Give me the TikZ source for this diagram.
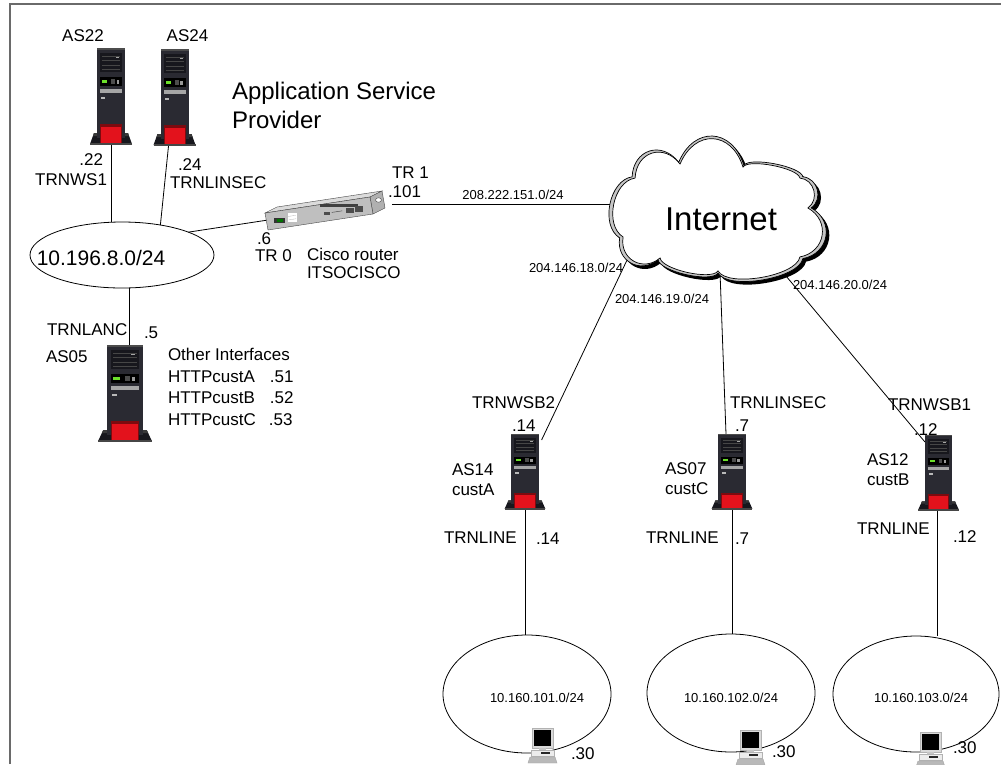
\documentclass[tikz,border=0pt]{standalone}
\usepackage{fontspec}
\setmainfont{Liberation Sans}
\usetikzlibrary{shapes.geometric}
\newcommand{\fsz}[1]{\fontsize{#1}{#1}\selectfont}

\definecolor{towerbody}{HTML}{2A2A32}
\definecolor{towerdark}{HTML}{17171D}
\definecolor{towerred}{HTML}{E3121C}
\definecolor{lcdgreen}{HTML}{6CE02A}
\definecolor{framegray}{HTML}{6A6A6A}

% outline of the Internet cloud (image pixel coordinates)
\newcommand{\cloudoutline}{(635,178)
  to[bend left=70, looseness=1.45] (680,164)
  to[bend left=70, looseness=1.55] (743,167)
  to[bend left=70, looseness=0.45] (800,178)
  to[bend left=70, looseness=1.2] (808,208)
  to[bend left=70, looseness=1.35] (800,257)
  to[bend left=70, looseness=0.6] (718,271)
  to[bend left=70, looseness=0.5] (660,258)
  to[bend left=70, looseness=1.35] (623,237)
  to[bend left=70, looseness=0.95] (635,178) -- cycle}

\tikzset{
  lnk/.style={draw=black, line width=0.8pt},
  lbl/.style={inner sep=0pt, outer sep=0pt, font=\fsz{17}},
  netlbl/.style={inner sep=0pt, outer sep=0pt, font=\fsz{13}},
  lanell/.style={ellipse, draw=black, line width=0.8pt, inner sep=0pt, outer sep=0pt},
  srvbox/.style={rectangle, inner sep=0pt, outer sep=0pt},
  % tower server, origin at the top centre, y grows downwards
  tower/.pic={
    \fill[towerdark] (-21,96) -- (-17,85) -- (17,85) -- (21,96) -- cycle;
    \fill[gray!45!black] (-17,85) -- (17,85) -- (18,88) -- (-18,88) -- cycle;
    \fill[gray!55!black] (-21,95) rectangle (21,97);
    \fill[towerbody] (-14,0) rectangle (14,90);
    \fill[gray!60!black] (-14,0) rectangle (14,1.5);
    \fill[towerdark] (-11,5) rectangle (11,24);
    \draw[gray!55!black, line width=0.5pt] (-9,8) -- (9,8) (-9,12) -- (9,12)
      (-9,17) -- (9,17) (-9,21) -- (9,21);
    \fill[gray!70] (5,8.5) rectangle (8,10);
    \fill[black] (-11,29) rectangle (11,38);
    \fill[lcdgreen] (-9,31.5) rectangle (-4,34.5);
    \fill[gray!60!black] (0,31) rectangle (4,36);
    \fill[gray!80] (5.5,32) rectangle (8,36);
    \fill[gray!70] (-11,41) rectangle (11,45);
    \fill[gray!55] (-10,49) rectangle (-6,51);
    \fill[towerred!55!black] (-11,76) rectangle (11,95);
    \fill[towerred] (-10,78.5) rectangle (10,95);
  },
  % desktop computer, origin at the top centre
  pc/.pic={
    \fill[gray!30] (-10,0) rectangle (11,20);
    \draw[gray!60, line width=0.4pt] (-10,0) rectangle (11,20);
    \fill[black] (-8,2) rectangle (9,18);
    \fill[gray!45] (-3,20) rectangle (4,22);
    \filldraw[fill=gray!15, draw=gray!60, line width=0.4pt] (-11,22) rectangle (12,28);
    \fill[black!85] (-1,24) rectangle (8,26);
    \filldraw[fill=gray!55, draw=gray!70, line width=0.4pt]
      (-14,35) -- (-12,29) -- (13,29) -- (15,35) -- cycle;
  }
}

\begin{document}
\begin{tikzpicture}[x=1pt,y=-1pt]
\useasboundingbox (0,0) rectangle (1001,764);
\fill[white] (0,0) rectangle (1001,764);

% page frame
\draw[framegray, line width=2pt] (10,764) -- (10,4) -- (1001,4);

% ---------- placeholders for devices ----------
\node[srvbox, minimum width=28pt, minimum height=97pt] (as22) at (111,96.5) {};
\node[srvbox, minimum width=28pt, minimum height=97pt] (as24) at (174.5,97.5) {};
\node[srvbox, minimum width=35.8pt, minimum height=97pt] (as05) at (125,393.5) {};
\node[srvbox, minimum width=27.2pt, minimum height=75.7pt] (as14) at (525,471.8) {};
\node[srvbox, minimum width=27.2pt, minimum height=75.7pt] (as07) at (732,471.8) {};
\node[srvbox, minimum width=27.2pt, minimum height=75.7pt] (as12) at (938.5,472.8) {};
\node[srvbox, minimum width=122pt, minimum height=40pt] (router) at (326,212) {};

% LAN segments
\node[lanell, minimum width=184pt, minimum height=66pt] (lan) at (122,255) {};
\node[lanell, minimum width=168pt, minimum height=118pt] (e1) at (527,694) {};
\node[lanell, minimum width=168pt, minimum height=118pt] (e2) at (731,693) {};
\node[lanell, minimum width=166pt, minimum height=116pt] (e3) at (916,694) {};

% points where the links enter the cloud
\coordinate (c1) at (620,204);
\coordinate (c2) at (628,258);
\coordinate (c3) at (720,272);
\coordinate (c4) at (786,276);

% ---------- links ----------
\draw[lnk] (as22.south) -- (as22.south |- lan.north);
\draw[lnk] ([xshift=-6pt]as24.south) -- (lan.38);
\draw[lnk] (lan.19) -- ([shift={(3,8)}]router.west);
\draw[lnk] ([shift={(5,-8)}]router.east) -- (c1);
\draw[lnk] ([xshift=4pt]as05.north) -- ([xshift=4pt]as05.north |- lan.south);
\draw[lnk] (c2) -- ([shift={(3,6)}]as14.north east);
\draw[lnk] (c3) -- ([xshift=-6pt]as07.north);
\draw[lnk] (c4) -- ([shift={(0,7)}]as12.north west);
\draw[lnk] (as14.south) -- (as14.south |- e1.north);
\draw[lnk] (as07.south) -- (as07.south |- e2.north);
\draw[lnk] ([xshift=-1pt]as12.south) -- ([xshift=-1pt]as12.south |- e3.north);

% ---------- Internet cloud ----------
\begin{scope}[scale around={1.035:(718,212)}]
  \fill[black, shift={(3,3)}] \cloudoutline;
  \filldraw[fill=gray!45, draw=black, line width=0.7pt] \cloudoutline;
  \filldraw[fill=white, draw=black, line width=0.7pt, scale around={0.965:(718,212)}] \cloudoutline;
\end{scope}
\node[inner sep=0pt, font=\fsz{33}, anchor=base] (inet) at (721,230) {Internet};

% ---------- router ----------
\filldraw[fill=gray!28, draw=gray!55!black, line width=0.4pt]
  (265,213) -- (370,197) -- (382,191) -- (277,207) -- cycle;
\filldraw[fill=gray!62, draw=gray!55!black, line width=0.4pt]
  (370,197) -- (382,191) -- (385,208) -- (373,214) -- cycle;
\filldraw[fill=gray!50, draw=gray!55!black, line width=0.4pt]
  (265,213) -- (370,197) -- (373,214) -- (268,230) -- cycle;
\begin{scope}[shift={(265,213)}, x={(105pt,16pt)}, y={(3pt,-17pt)}]
  \fill[black!80] (0.08,0.35) rectangle (0.17,0.75);
  \fill[green!45!black] (0.10,0.45) rectangle (0.15,0.65);
  \fill[white] (0.21,0.2) rectangle (0.28,0.8);
  \draw[gray!60, line width=0.3pt] (0.21,0.4) -- (0.28,0.4) (0.21,0.6) -- (0.28,0.6);
  \fill[black!75] (0.52,0.12) rectangle (0.88,0.3);
  \fill[black!70] (0.55,0.45) rectangle (0.6,0.7);
  \draw[black!70, line width=0.5pt] (0.62,0.55) -- (0.72,0.55);
  \fill[black!70] (0.76,0.4) rectangle (0.82,0.8);
  \fill[black!70] (0.85,0.4) rectangle (0.91,0.8);
\end{scope}
\filldraw[fill=white, draw=gray!55!black, line width=0.4pt] (378.5,200) ellipse (3pt and 2.2pt);

% ---------- servers and workstations ----------
\pic at (as22.north) {tower};
\pic at (as24.north) {tower};
\pic[xscale=1.28] at (as05.north) {tower};
\pic[xscale=0.97, yscale=0.78] at (as14.north) {tower};
\pic[xscale=0.97, yscale=0.78] at (as07.north) {tower};
\pic[xscale=0.97, yscale=0.78] at (as12.north) {tower};

\node[srvbox, minimum width=29pt, minimum height=35pt] (pc1) at (542,745.5) {};
\node[srvbox, minimum width=29pt, minimum height=35pt] (pc2) at (750,747.5) {};
\node[srvbox, minimum width=29pt, minimum height=35pt] (pc3) at (930,749.5) {};
\pic at (pc1.north) {pc};
\pic at (pc2.north) {pc};
\pic at (pc3.north) {pc};

% ---------- labels: application service provider ----------
\node[lbl, anchor=base] (tas22) at (83,41) {AS22};
\node[lbl, anchor=base] (tas24) at (187.5,41) {AS24};
\node[lbl, font=\fsz{24}, anchor=base west] (tasp1) at (232,99) {Application Service};
\node[lbl, font=\fsz{24}, anchor=base west] (tasp2) at (232,128) {Provider};
\node[lbl, anchor=base east] (t22) at (103,165) {.22};
\node[lbl, anchor=base east] (tws1) at (107,185) {TRNWS1};
\node[lbl, anchor=base west] (t24) at (178,170) {.24};
\node[lbl, anchor=base west] (tlin1) at (170,188) {TRNLINSEC};
\node[lbl, font=\fsz{21}, anchor=base] (tlan) at (101,265) {10.196.8.0/24};

\node[lbl, anchor=base west] (ttr1) at (392,178) {TR 1};
\node[lbl, anchor=base west] (t101) at (388,197) {.101};
\node[netlbl, anchor=base] (tn1) at (513,199) {208.222.151.0/24};
\node[lbl, anchor=base west] (t6) at (257,244) {.6};
\node[lbl, anchor=base west] (ttr0) at (255,261) {TR 0};
\node[lbl, anchor=base west] (tcis) at (307,260) {Cisco router};
\node[lbl, anchor=base west] (tits) at (307,278) {ITSOCISCO};

\node[lbl, anchor=base west] (tlanc) at (47,335) {TRNLANC};
\node[lbl, anchor=base west] (t5) at (144,338) {.5};
\node[lbl, anchor=base west] (tas05) at (46,362) {AS05};
\node[lbl, anchor=base west] (toth) at (168,360) {Other Interfaces};
\node[lbl, anchor=base west] (tha) at (168,382) {HTTPcustA\hspace{15pt}.51};
\node[lbl, anchor=base west] (thb) at (168,403) {HTTPcustB\hspace{15pt}.52};
\node[lbl, anchor=base west] (thc) at (168,425) {HTTPcustC\hspace{13pt}.53};

% ---------- labels: Internet side ----------
\node[netlbl, anchor=base] (tn2) at (576,272) {204.146.18.0/24};
\node[netlbl, anchor=base] (tn3) at (662,303) {204.146.19.0/24};
\node[netlbl, anchor=base] (tn4) at (840,289) {204.146.20.0/24};

\node[lbl, anchor=base west] (twsb2) at (472,408) {TRNWSB2};
\node[lbl, anchor=base west] (t14a) at (512,431) {.14};
\node[lbl, anchor=base west] (tas14) at (452,475) {AS14};
\node[lbl, anchor=base west] (tcua) at (452,495) {custA};
\node[lbl, anchor=base west] (tline1) at (444,543) {TRNLINE};
\node[lbl, anchor=base west] (t14b) at (536,544) {.14};

\node[lbl, anchor=base west] (tlin2) at (730,408) {TRNLINSEC};
\node[lbl, anchor=base west] (t7a) at (735,431) {.7};
\node[lbl, anchor=base west] (tas07) at (665,474) {AS07};
\node[lbl, anchor=base west] (tcuc) at (665,494) {custC};
\node[lbl, anchor=base west] (tline2) at (646,543) {TRNLINE};
\node[lbl, anchor=base west] (t7b) at (735,544) {.7};

\node[lbl, anchor=base west] (twsb1) at (888,410) {TRNWSB1};
\node[lbl, anchor=base west] (t12a) at (914,435) {.12};
\node[lbl, anchor=base west] (tas12) at (867,465) {AS12};
\node[lbl, anchor=base west] (tcub) at (867,485) {custB};
\node[lbl, anchor=base west] (tline3) at (857,534) {TRNLINE};
\node[lbl, anchor=base west] (t12b) at (953,542) {.12};

% ---------- customer LAN labels ----------
\node[netlbl, anchor=base] (te1) at (537,702) {10.160.101.0/24};
\node[netlbl, anchor=base] (te2) at (731,702) {10.160.102.0/24};
\node[netlbl, anchor=base] (te3) at (921,702) {10.160.103.0/24};
\node[lbl, anchor=base west] (t30a) at (571,759) {.30};
\node[lbl, anchor=base west] (t30b) at (772,757) {.30};
\node[lbl, anchor=base west] (t30c) at (953,753) {.30};
\end{tikzpicture}
\end{document}
